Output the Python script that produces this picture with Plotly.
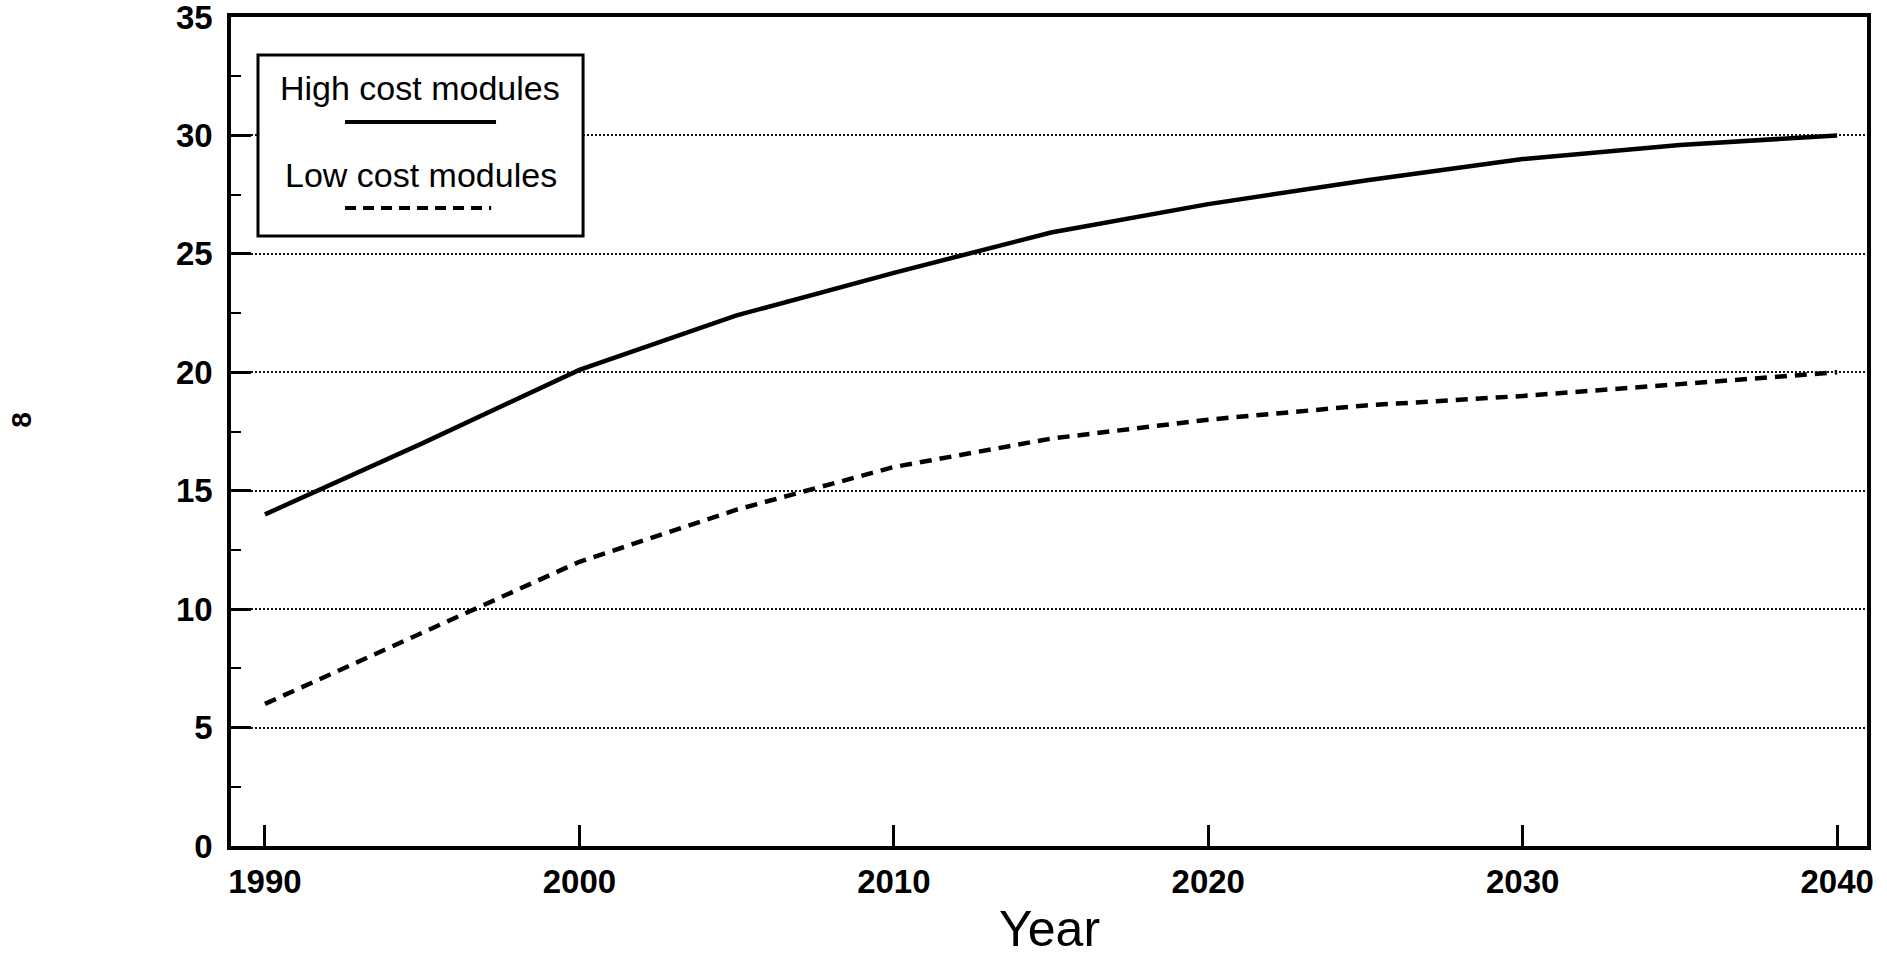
import plotly.graph_objects as go

# Projected values by year
years = [1990, 1995, 2000, 2005, 2010, 2015, 2020, 2025, 2030, 2035, 2040]
high_cost = [14.0, 17.0, 20.1, 22.4, 24.2, 25.9, 27.1, 28.1, 29.0, 29.6, 30.0]
low_cost = [6.0, 9.0, 12.0, 14.2, 16.0, 17.2, 18.0, 18.6, 19.0, 19.5, 20.0]

x_ticks = [1990, 2000, 2010, 2020, 2030, 2040]
y_ticks = [0, 5, 10, 15, 20, 25, 30, 35]

series_names = ["High cost modules", "Low cost modules"]

FONT = "Liberation Sans, Arial, Helvetica, sans-serif"
INK = "black"

fig = go.Figure()
fig.add_trace(go.Scatter(
    x=years, y=high_cost, mode="lines", name=series_names[0],
    line=dict(color=INK, width=4.5), showlegend=False,
))
fig.add_trace(go.Scatter(
    x=years, y=low_cost, mode="lines", name=series_names[1],
    line=dict(color=INK, width=4.5, dash="12px,8px"), showlegend=False,
))

fig.update_xaxes(
    range=[1988.92, 2040.95],
    tickvals=x_ticks, ticktext=[str(v) for v in x_ticks],
    ticks="inside", ticklen=21, tickwidth=2.5, tickcolor=INK,
    ticklabelstandoff=4, automargin=False, ticklabeloverflow="allow",
    showline=True, linecolor=INK, linewidth=3.5, mirror=True,
    showgrid=False, zeroline=False,
    tickfont=dict(family=FONT, size=33, color=INK, weight="bold"),
)
fig.update_yaxes(
    range=[0, 35],
    tickvals=y_ticks, ticktext=[str(v) for v in y_ticks],
    ticks="inside", ticklen=20, tickwidth=2.5, tickcolor=INK,
    ticklabelstandoff=8, automargin=False, ticklabeloverflow="allow",
    minor=dict(dtick=2.5, ticks="inside", ticklen=10, tickwidth=2,
               tickcolor=INK, showgrid=False),
    showline=True, linecolor=INK, linewidth=3.5, mirror=True,
    showgrid=True, gridcolor="#111111", gridwidth=1.6, griddash="2px,2px",
    zeroline=False,
    tickfont=dict(family=FONT, size=33, color=INK, weight="bold"),
)

# Legend panel: labels stacked above their line samples
fig.add_shape(type="rect", xref="paper", yref="paper",
              x0=0.0165, x1=0.2152, y0=0.7358, y1=0.9542,
              line=dict(color=INK, width=3), fillcolor="white", layer="above")
fig.add_shape(type="line", xref="paper", yref="paper",
              x0=0.0697, x1=0.162, y0=0.8734, y1=0.8734,
              line=dict(color=INK, width=4))
fig.add_shape(type="line", xref="paper", yref="paper",
              x0=0.0697, x1=0.159, y0=0.7696, y1=0.7696,
              line=dict(color=INK, width=4, dash="11px,7px"))
fig.add_annotation(xref="paper", yref="paper", x=0.1155, y=0.9144,
                   text=series_names[0], showarrow=False,
                   xanchor="center", yanchor="middle",
                   font=dict(family=FONT, size=34, color=INK))
fig.add_annotation(xref="paper", yref="paper", x=0.1160, y=0.8100,
                   text=series_names[1], showarrow=False,
                   xanchor="center", yanchor="middle",
                   font=dict(family=FONT, size=34, color=INK))

# Axis title and page mark
fig.add_annotation(xref="paper", yref="paper", x=0.5006, y=-0.1000,
                   text="Year", showarrow=False,
                   xanchor="center", yanchor="middle",
                   font=dict(family=FONT, size=50, color=INK))
fig.add_annotation(xref="paper", yref="paper", x=-0.1278, y=0.514,
                   text="8", showarrow=False, textangle=-90,
                   xanchor="center", yanchor="middle",
                   font=dict(family=FONT, size=28, color=INK, weight="bold"))

fig.update_layout(
    width=1887, height=962,
    margin=dict(l=231, r=20, t=17, b=116),
    plot_bgcolor="white", paper_bgcolor="white",
    showlegend=False,
)

fig.write_html("out.html")
